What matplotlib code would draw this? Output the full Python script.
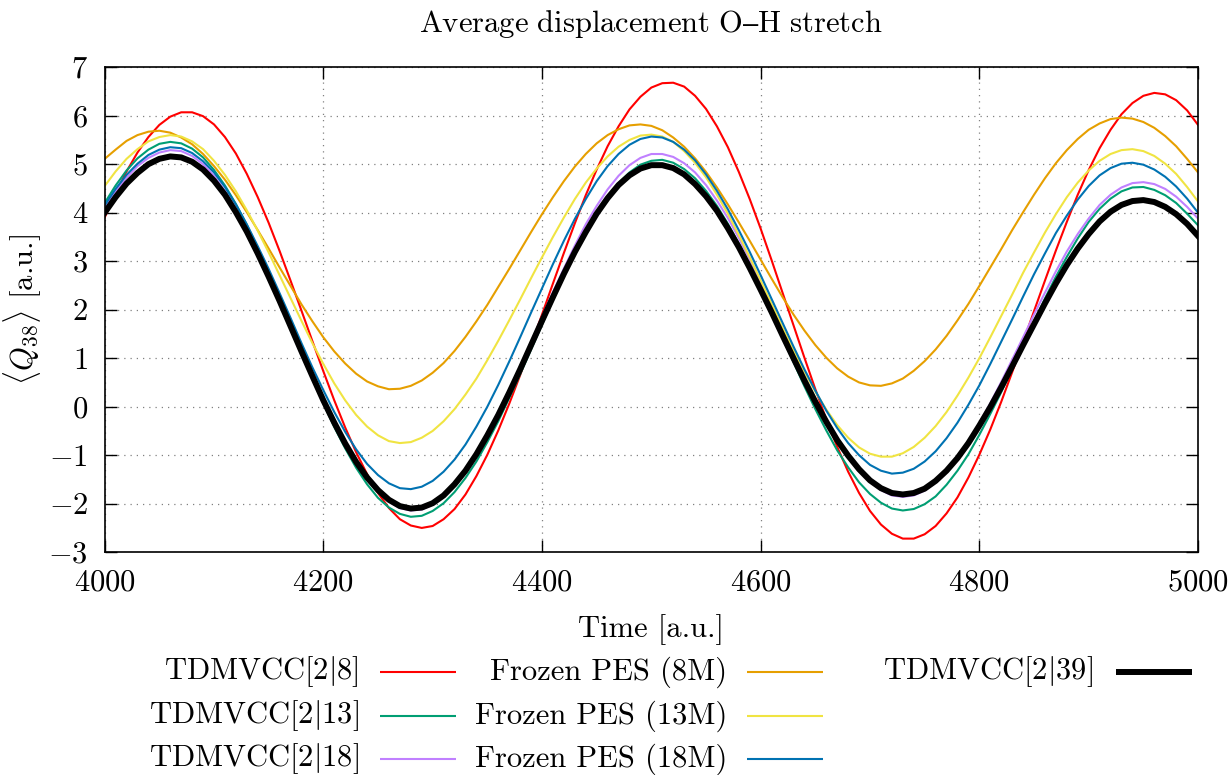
import numpy as np
import matplotlib
matplotlib.use('Agg')
import matplotlib.pyplot as plt
from matplotlib.lines import Line2D

plt.rcParams['mathtext.fontset'] = 'cm'
plt.rcParams['font.family'] = ['cmr10', 'STIXGeneral', 'DejaVu Serif']
plt.rcParams['axes.formatter.use_mathtext'] = True

# ----------------------------------------------
# data (read off the reference, sampled every 10 a.u.)
# ----------------------------------------------
time = list(range(4000, 5001, 10))

tdmvcc_8 = [3.90, 4.40, 4.85, 5.24, 5.56, 5.81, 5.98, 6.07, 6.07, 5.99,
            5.82, 5.56, 5.22, 4.80, 4.32, 3.79, 3.21, 2.60, 1.98, 1.35,
            0.73, 0.13, -0.43, -0.94, -1.39, -1.78, -2.09, -2.32, -2.45, -2.50,
            -2.46, -2.32, -2.11, -1.81, -1.43, -0.99, -0.49, 0.06, 0.65, 1.27,
            1.90, 2.54, 3.17, 3.78, 4.36, 4.89, 5.37, 5.78, 6.13, 6.39,
            6.58, 6.67, 6.68, 6.60, 6.41, 6.14, 5.78, 5.35, 4.84, 4.28,
            3.67, 3.02, 2.35, 1.68, 1.01, 0.36, -0.26, -0.83, -1.34, -1.78,
            -2.15, -2.43, -2.62, -2.72, -2.72, -2.63, -2.46, -2.20, -1.87, -1.46,
            -0.99, -0.47, 0.10, 0.71, 1.33, 1.97, 2.60, 3.22, 3.81, 4.37,
            4.88, 5.33, 5.71, 6.03, 6.26, 6.41, 6.47, 6.44, 6.32, 6.11,
            5.81]
tdmvcc_13 = [4.20, 4.56, 4.87, 5.12, 5.30, 5.42, 5.46, 5.43, 5.32, 5.14,
             4.88, 4.56, 4.18, 3.75, 3.27, 2.76, 2.22, 1.68, 1.13, 0.59,
             0.07, -0.42, -0.86, -1.26, -1.60, -1.88, -2.08, -2.21, -2.27, -2.25,
             -2.15, -1.99, -1.76, -1.47, -1.13, -0.73, -0.30, 0.18, 0.67, 1.18,
             1.69, 2.20, 2.69, 3.16, 3.59, 3.99, 4.33, 4.61, 4.83, 4.99,
             5.07, 5.09, 5.03, 4.90, 4.71, 4.45, 4.14, 3.77, 3.36, 2.91,
             2.43, 1.93, 1.42, 0.92, 0.42, -0.05, -0.49, -0.90, -1.25, -1.56,
             -1.80, -1.98, -2.10, -2.14, -2.11, -2.01, -1.85, -1.61, -1.32, -0.98,
             -0.58, -0.15, 0.30, 0.78, 1.27, 1.75, 2.23, 2.68, 3.09, 3.47,
             3.81, 4.08, 4.29, 4.44, 4.52, 4.53, 4.47, 4.36, 4.20, 3.98,
             3.74]
tdmvcc_18 = [4.10, 4.44, 4.72, 4.96, 5.13, 5.24, 5.29, 5.27, 5.17, 5.00,
             4.76, 4.45, 4.09, 3.67, 3.21, 2.72, 2.21, 1.68, 1.15, 0.63,
             0.13, -0.34, -0.78, -1.16, -1.49, -1.76, -1.96, -2.09, -2.14, -2.12,
             -2.02, -1.86, -1.63, -1.34, -0.99, -0.59, -0.15, 0.32, 0.82, 1.33,
             1.85, 2.36, 2.85, 3.32, 3.76, 4.14, 4.48, 4.76, 4.98, 5.13,
             5.21, 5.21, 5.15, 5.02, 4.83, 4.57, 4.25, 3.89, 3.48, 3.04,
             2.56, 2.08, 1.58, 1.09, 0.60, 0.15, -0.29, -0.68, -1.02, -1.32,
             -1.55, -1.72, -1.83, -1.86, -1.83, -1.73, -1.56, -1.34, -1.05, -0.72,
             -0.34, 0.07, 0.51, 0.97, 1.43, 1.90, 2.35, 2.79, 3.20, 3.56,
             3.88, 4.16, 4.37, 4.52, 4.61, 4.63, 4.59, 4.49, 4.33, 4.12,
             3.88]
frozen_8 = [5.11, 5.30, 5.48, 5.60, 5.67, 5.69, 5.65, 5.55, 5.41, 5.21,
            4.96, 4.68, 4.36, 4.01, 3.64, 3.26, 2.87, 2.49, 2.11, 1.76,
            1.43, 1.14, 0.89, 0.68, 0.52, 0.42, 0.36, 0.37, 0.43, 0.54,
            0.70, 0.90, 1.15, 1.44, 1.76, 2.10, 2.47, 2.84, 3.22, 3.60,
            3.97, 4.32, 4.65, 4.95, 5.21, 5.43, 5.60, 5.72, 5.80, 5.82,
            5.79, 5.70, 5.55, 5.36, 5.12, 4.84, 4.52, 4.17, 3.80, 3.42,
            3.03, 2.64, 2.26, 1.90, 1.57, 1.27, 1.01, 0.79, 0.62, 0.50,
            0.44, 0.43, 0.48, 0.58, 0.74, 0.94, 1.18, 1.46, 1.78, 2.12,
            2.49, 2.87, 3.25, 3.64, 4.01, 4.37, 4.71, 5.02, 5.29, 5.52,
            5.71, 5.84, 5.93, 5.96, 5.94, 5.87, 5.75, 5.58, 5.37, 5.11,
            4.83]
frozen_13 = [4.55, 4.85, 5.11, 5.31, 5.47, 5.56, 5.60, 5.57, 5.47, 5.31,
             5.07, 4.78, 4.44, 4.05, 3.63, 3.18, 2.71, 2.24, 1.77, 1.31,
             0.88, 0.48, 0.13, -0.17, -0.41, -0.59, -0.71, -0.75, -0.73, -0.64,
             -0.50, -0.30, -0.05, 0.25, 0.58, 0.96, 1.36, 1.78, 2.21, 2.65,
             3.08, 3.50, 3.90, 4.28, 4.62, 4.91, 5.16, 5.36, 5.50, 5.59,
             5.61, 5.57, 5.46, 5.27, 5.03, 4.73, 4.37, 3.98, 3.54, 3.08,
             2.60, 2.12, 1.63, 1.16, 0.72, 0.31, -0.06, -0.38, -0.64, -0.84,
             -0.97, -1.03, -1.03, -0.96, -0.83, -0.64, -0.40, -0.11, 0.23, 0.60,
             1.00, 1.43, 1.87, 2.31, 2.76, 3.18, 3.59, 3.97, 4.32, 4.62,
             4.87, 5.07, 5.21, 5.29, 5.31, 5.27, 5.17, 5.01, 4.80, 4.53,
             4.23]
frozen_18 = [4.15, 4.49, 4.78, 5.01, 5.19, 5.30, 5.35, 5.33, 5.23, 5.06,
             4.83, 4.53, 4.17, 3.76, 3.31, 2.84, 2.34, 1.83, 1.31, 0.81,
             0.34, -0.11, -0.52, -0.88, -1.18, -1.41, -1.58, -1.68, -1.70, -1.65,
             -1.53, -1.34, -1.09, -0.78, -0.41, 0.00, 0.45, 0.93, 1.43, 1.94,
             2.44, 2.94, 3.42, 3.87, 4.28, 4.65, 4.96, 5.21, 5.40, 5.52,
             5.57, 5.55, 5.46, 5.30, 5.08, 4.79, 4.45, 4.07, 3.64, 3.19,
             2.71, 2.22, 1.73, 1.24, 0.77, 0.33, -0.08, -0.44, -0.75, -1.00,
             -1.20, -1.32, -1.38, -1.36, -1.28, -1.13, -0.92, -0.65, -0.33, 0.04,
             0.44, 0.88, 1.34, 1.80, 2.27, 2.73, 3.16, 3.58, 3.94, 4.27,
             4.55, 4.77, 4.92, 5.01, 5.03, 4.99, 4.89, 4.74, 4.54, 4.29,
             4.00]
tdmvcc_39 = [4.00, 4.32, 4.60, 4.82, 5.00, 5.11, 5.16, 5.14, 5.05, 4.89,
             4.66, 4.37, 4.01, 3.61, 3.16, 2.68, 2.18, 1.66, 1.14, 0.63,
             0.13, -0.33, -0.76, -1.14, -1.46, -1.72, -1.92, -2.05, -2.10, -2.08,
             -1.99, -1.83, -1.60, -1.32, -0.98, -0.59, -0.17, 0.29, 0.77, 1.27,
             1.77, 2.26, 2.74, 3.19, 3.60, 3.98, 4.30, 4.57, 4.77, 4.91,
             4.98, 4.98, 4.92, 4.79, 4.59, 4.34, 4.04, 3.68, 3.29, 2.86,
             2.41, 1.95, 1.47, 1.00, 0.54, 0.10, -0.31, -0.69, -1.01, -1.29,
             -1.52, -1.68, -1.78, -1.81, -1.78, -1.69, -1.53, -1.32, -1.06, -0.75,
             -0.39, -0.01, 0.40, 0.83, 1.27, 1.70, 2.13, 2.54, 2.92, 3.26,
             3.56, 3.82, 4.02, 4.16, 4.24, 4.26, 4.22, 4.12, 3.97, 3.77,
             3.52]

# (label, values, colour, linewidth)
series = [
    (r'$\mathrm{TDMVCC}[2|8]$', tdmvcc_8, '#ff0000', 1.5),
    (r'$\mathrm{TDMVCC}[2|13]$', tdmvcc_13, '#009e73', 1.5),
    (r'$\mathrm{TDMVCC}[2|18]$', tdmvcc_18, '#c080ff', 1.5),
    ('Frozen PES (8M)', frozen_8, '#e69f00', 1.5),
    ('Frozen PES (13M)', frozen_13, '#f0e442', 1.5),
    ('Frozen PES (18M)', frozen_18, '#0072b2', 1.5),
    (r'$\mathrm{TDMVCC}[2|39]$', tdmvcc_39, '#000000', 4.3),
]

FS = 22

fig = plt.figure(figsize=(12.3, 7.75), dpi=100)
ax = fig.add_axes([0.0851, 0.2875, 0.8889, 0.6258])

for label, vals, c, lw in series:
    ax.plot(time, vals, color=c, lw=lw)

ax.set_xlim(4000, 5000)
ax.set_ylim(-3, 7)
ax.set_xticks(np.arange(4000, 5001, 200))
ax.set_yticks(np.arange(-3, 8, 1))
ax.tick_params(direction='in', length=8.5, width=1, top=True, right=True,
               labelsize=FS, pad=12)
ax.grid(color='#808080', linestyle=(0, (1, 4)), lw=0.9)
for s in ax.spines.values():
    s.set_linewidth(1.2)

ax.set_title(r'$\mathrm{Average\ displacement\ O}$–$\mathrm{H\ stretch}$',
             fontsize=FS, pad=25, fontfamily='STIXGeneral')
ax.set_xlabel('Time [a.u.]', fontsize=FS, labelpad=13)
ax.set_ylabel(r'$\langle Q_{38}\rangle$ [a.u.]', fontsize=FS, labelpad=3)

# gnuplot-style key: label right-aligned, sample to its right, 3 columns
W, H = 1230.0, 775.0
text_right = [359, 727, 1093]
line_span = [(380, 456), (747, 823), (1116, 1192)]
rows = [672, 716, 759]
slots = [(0, 0), (0, 1), (0, 2), (1, 0), (1, 1), (1, 2), (2, 0)]
for (label, vals, c, lw), (col, row) in zip(series, slots):
    y = 1 - rows[row] / H
    fig.text(text_right[col] / W, y, label, ha='right', va='center', fontsize=FS)
    x0, x1 = line_span[col]
    fig.add_artist(Line2D([x0 / W, x1 / W], [y, y], color=c, lw=lw,
                          transform=fig.transFigure, solid_capstyle='butt'))

plt.savefig('out.png', dpi=100)
plt.close()
